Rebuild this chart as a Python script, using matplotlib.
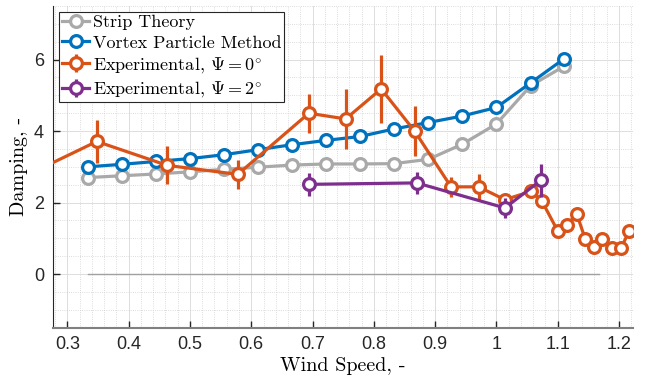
import numpy as np
import matplotlib.pyplot as plt
from matplotlib.ticker import MultipleLocator

plt.rcParams['mathtext.fontset'] = 'cm'
plt.rcParams['axes.formatter.use_mathtext'] = True

# Dados
vel_modelo = [0.333, 0.389, 0.444, 0.5, 0.556, 0.611, 0.667, 0.722, 0.778,
              0.833, 0.889, 0.944, 1.0, 1.056, 1.111]
strip_theory = [2.70, 2.75, 2.80, 2.86, 2.93, 2.99, 3.05, 3.08, 3.08,
                3.09, 3.21, 3.63, 4.20, 5.27, 5.82]
vortex = [3.00, 3.07, 3.15, 3.23, 3.34, 3.48, 3.62, 3.74, 3.85,
          4.06, 4.24, 4.42, 4.66, 5.35, 6.03]

vel_exp0 = [0.250, 0.348, 0.463, 0.578, 0.694, 0.754, 0.812, 0.867, 0.926,
            0.971, 1.014, 1.057, 1.074, 1.100, 1.116, 1.131, 1.145, 1.160,
            1.173, 1.189, 1.203, 1.217]
damp_exp0 = [2.90, 3.71, 3.04, 2.79, 4.50, 4.34, 5.18, 3.99, 2.44,
             2.44, 2.08, 2.32, 2.05, 1.21, 1.38, 1.69, 0.98, 0.77,
             0.98, 0.72, 0.72, 1.21]
err_exp0 = [0.50, 0.60, 0.53, 0.40, 0.55, 0.84, 0.95, 0.70, 0.27,
            0.36, 0.15, 0.15, 0.20, 0.10, 0.10, 0.15, 0.05, 0.05,
            0.05, 0.05, 0.05, 0.05]

vel_exp2 = [0.694, 0.870, 1.014, 1.073]
damp_exp2 = [2.51, 2.55, 1.85, 2.63]
err_exp2 = [0.33, 0.30, 0.28, 0.46]

zero_x = [0.333, 1.167]
zero_y = [0, 0]

cinza = '#A9A9A9'
azul = '#0072BD'
laranja = '#D95319'
roxo = '#7E2F8E'

fig = plt.figure(figsize=(6.46, 3.83), dpi=100)
ax = fig.add_axes([0.0825, 0.1444, 0.897, 0.84])

ax.plot(zero_x, zero_y, color='#A0A0A0', lw=1.0, zorder=1)

ms = 8.5
ax.plot(vel_modelo, strip_theory, '-o', color=cinza, lw=2.3, ms=ms,
        mfc='white', mew=2.3, label='Strip Theory', zorder=2)
ax.plot(vel_modelo, vortex, '-o', color=azul, lw=2.3, ms=ms,
        mfc='white', mew=2.3, label='Vortex Particle Method', zorder=3)
ax.errorbar(vel_exp0, damp_exp0, yerr=err_exp0, fmt='-o',
            color=laranja, lw=2.3, elinewidth=2.3, ms=ms, mfc='white', mew=2.3,
            capsize=0, label=r'Experimental, $\Psi = 0^{\circ}$', zorder=4)
ax.errorbar(vel_exp2, damp_exp2, yerr=err_exp2, fmt='-o',
            color=roxo, lw=2.3, elinewidth=2.3, ms=ms, mfc='white', mew=2.3,
            capsize=0, label=r'Experimental, $\Psi = 2^{\circ}$', zorder=5)

ax.set_xlim(0.277, 1.2225)
ax.set_ylim(-1.5, 7.5)
ax.xaxis.set_minor_locator(MultipleLocator(0.02))
ax.yaxis.set_major_locator(MultipleLocator(2))
ax.yaxis.set_minor_locator(MultipleLocator(0.5))
ax.set_xticks([0.3, 0.4, 0.5, 0.6, 0.7, 0.8, 0.9, 1.0, 1.1, 1.2])
ax.set_xticklabels(['0.3', '0.4', '0.5', '0.6', '0.7', '0.8', '0.9', '1', '1.1', '1.2'])

ax.grid(True, which='major', color='#dddddd', lw=0.7, ls='-')
ax.grid(True, which='minor', color='#d0d0d0', lw=0.6, ls=':')
ax.set_axisbelow(True)

ax.spines['top'].set_visible(False)
ax.spines['right'].set_visible(False)
ax.spines['left'].set_color('#262626')
ax.spines['bottom'].set_color('#808080')
ax.spines['bottom'].set_linewidth(1.5)
ax.tick_params(which='major', direction='in', length=5, width=1, colors='#262626',
               labelsize=13, pad=6)
ax.tick_params(which='minor', length=0)
for lab in ax.get_xticklabels() + ax.get_yticklabels():
    lab.set_fontfamily('Liberation Sans')

ax.set_xlabel('Wind Speed, -', fontfamily='cmr10', fontsize=14.5, labelpad=3)
ax.set_ylabel('Damping, -', fontfamily='cmr10', fontsize=14.5, labelpad=4)

leg = ax.legend(loc='upper left', bbox_to_anchor=(0.0104, 0.981), borderaxespad=0,
                fancybox=False, framealpha=1, edgecolor='#262626',
                prop={'family': 'cmr10', 'size': 13}, handlelength=1.5,
                handletextpad=0.2, labelspacing=0.25, borderpad=0.15)
leg.get_frame().set_linewidth(0.8)

plt.savefig('out.png', dpi=100)
